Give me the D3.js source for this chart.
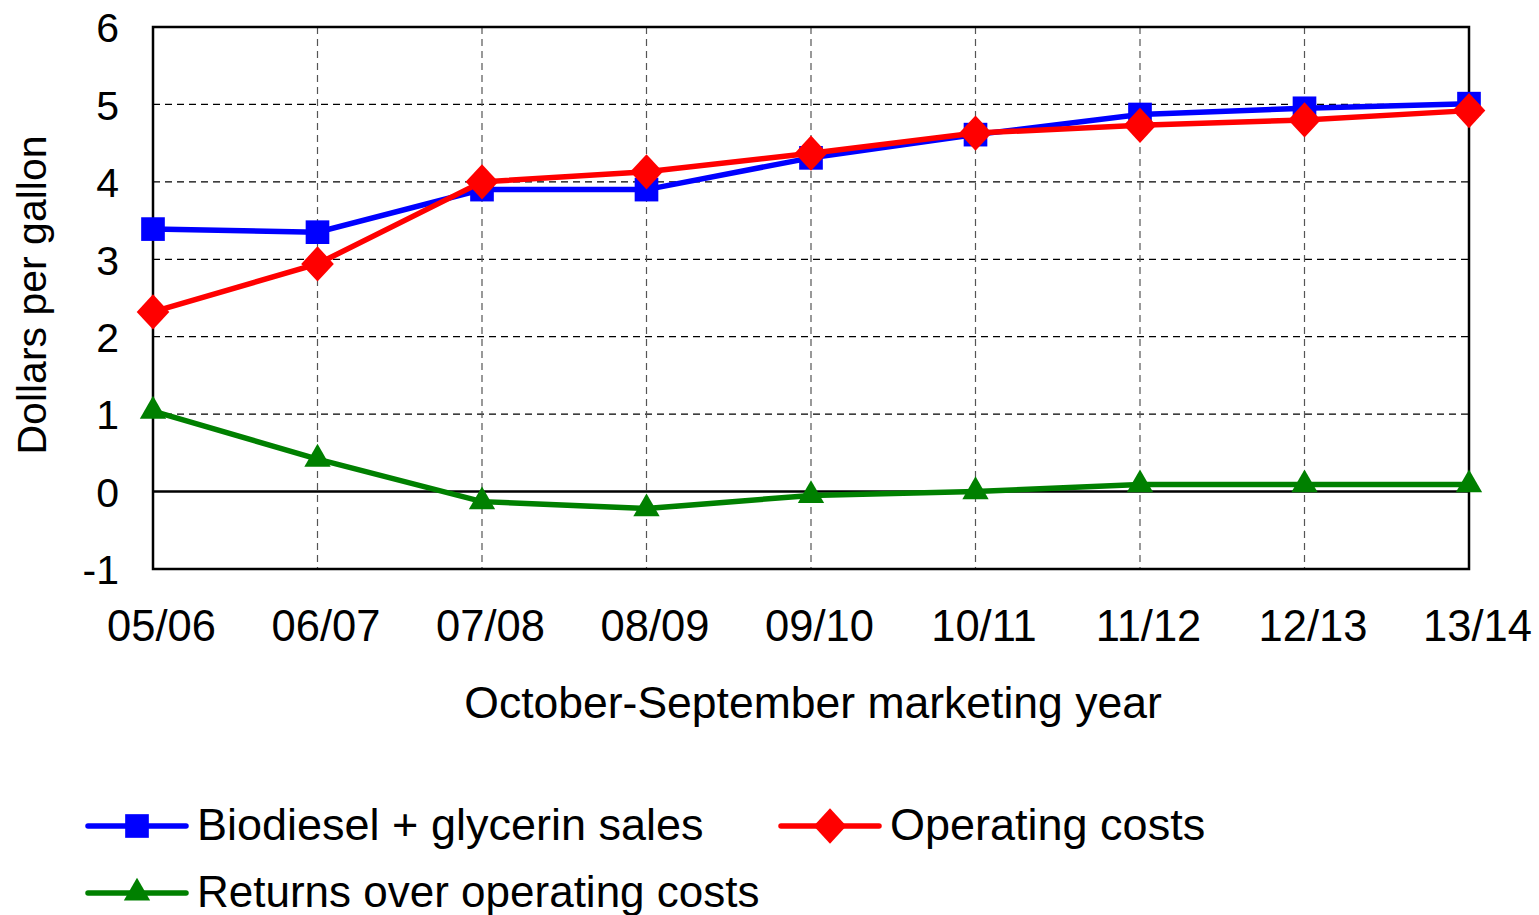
<!DOCTYPE html>
<html>
<head>
<meta charset="utf-8">
<script src="https://cdn.jsdelivr.net/npm/d3@7"></script>
<style>
  body { margin: 0; background: #fff; }
  text { font-family: "Liberation Sans", Arial, sans-serif; fill: #000; }
</style>
</head>
<body>
<script>
const years = ["05/06", "06/07", "07/08", "08/09", "09/10", "10/11", "11/12", "12/13", "13/14"];
const sales = [3.39, 3.35, 3.90, 3.90, 4.31, 4.61, 4.87, 4.95, 5.01];
const costs = [2.32, 2.94, 4.00, 4.13, 4.37, 4.63, 4.73, 4.80, 4.92];
const returns = [1.04, 0.42, -0.13, -0.22, -0.05, 0.00, 0.09, 0.09, 0.09];
const yTicks = [-1, 0, 1, 2, 3, 4, 5, 6];

const w = 1539, h = 915;
const pLeft = 153, pRight = 1469, pTop = 27, pBottom = 569;

const svg = d3.select("body").append("svg")
  .attr("width", w)
  .attr("height", h);

const x = d3.scalePoint().domain(years).range([pLeft, pRight]);
const y = d3.scaleLinear().domain([-1, 6]).range([pBottom, pTop]);

// gridlines
svg.append("g")
  .selectAll("line")
  .data(yTicks.filter(d => d > 0 && d < 6))
  .enter().append("line")
  .attr("x1", pLeft).attr("x2", pRight)
  .attr("y1", d => y(d)).attr("y2", d => y(d))
  .attr("stroke", "#000")
  .attr("stroke-width", 1.2)
  .attr("stroke-dasharray", "7,5");

svg.append("g")
  .selectAll("line")
  .data(years.slice(1, -1))
  .enter().append("line")
  .attr("x1", d => x(d)).attr("x2", d => x(d))
  .attr("y1", pTop).attr("y2", pBottom)
  .attr("stroke", "#555")
  .attr("stroke-width", 1.2)
  .attr("stroke-dasharray", "7,5");

// zero line
svg.append("line")
  .attr("x1", pLeft).attr("x2", pRight)
  .attr("y1", y(0)).attr("y2", y(0))
  .attr("stroke", "#000")
  .attr("stroke-width", 2.5);

// frame
svg.append("rect")
  .attr("x", pLeft).attr("y", pTop)
  .attr("width", pRight - pLeft).attr("height", pBottom - pTop)
  .attr("fill", "none")
  .attr("stroke", "#000")
  .attr("stroke-width", 2.5);

// axes
const yAxis = d3.axisLeft(y).tickValues(yTicks).tickSize(0).tickPadding(34).tickFormat(d => d);
svg.append("g")
  .attr("transform", "translate(" + pLeft + ",0)")
  .call(yAxis)
  .call(g => g.select(".domain").remove())
  .selectAll("text")
  .style("font-size", "41px")
  .attr("dy", "0.36em");

const xAxis = d3.axisBottom(x).tickSize(0).tickPadding(41);
svg.append("g")
  .attr("transform", "translate(8," + pBottom + ")")
  .call(xAxis)
  .call(g => g.select(".domain").remove())
  .selectAll("text")
  .style("font-size", "43.5px");

svg.append("text")
  .attr("x", (pLeft + pRight) / 2 + 2)
  .attr("y", 718)
  .attr("text-anchor", "middle")
  .style("font-size", "44.5px")
  .text("October-September marketing year");

svg.append("text")
  .attr("transform", "translate(46," + ((pTop + pBottom) / 2 - 3) + ") rotate(-90)")
  .attr("text-anchor", "middle")
  .style("font-size", "41px")
  .text("Dollars per gallon");

// series
const series = [
  { name: "Biodiesel + glycerin sales", values: sales, color: "#0000ff", marker: d3.symbolSquare, size: 560, sx: 1 },
  { name: "Operating costs", values: costs, color: "#ff0000", marker: d3.symbolDiamond, size: 360, sx: 1.6 },
  { name: "Returns over operating costs", values: returns, color: "#008000", marker: d3.symbolTriangle, size: 300, sx: 1 }
];

const line = d3.line().x((d, i) => x(years[i])).y(d => y(d));

series.forEach(s => {
  const g = svg.append("g");
  g.append("path")
    .datum(s.values)
    .attr("d", line)
    .attr("fill", "none")
    .attr("stroke", s.color)
    .attr("stroke-width", 5.5);
  g.selectAll("path.m")
    .data(s.values)
    .enter().append("path")
    .attr("class", "m")
    .attr("d", d3.symbol().type(s.marker).size(s.size))
    .attr("transform", (d, i) => "translate(" + x(years[i]) + "," + y(d) + ") scale(" + s.sx + ",1)")
    .attr("fill", s.color);
});

// legend
const legendPos = [[88, 826], [781, 826], [88, 893]];
series.forEach((s, i) => {
  const [lx, ly] = legendPos[i];
  const g = svg.append("g").attr("transform", "translate(" + lx + "," + ly + ")");
  g.append("line")
    .attr("x1", 0).attr("x2", 98)
    .attr("y1", 0).attr("y2", 0)
    .attr("stroke", s.color)
    .attr("stroke-width", 5.5)
    .attr("stroke-linecap", "round");
  g.append("path")
    .attr("d", d3.symbol().type(s.marker).size(s.size))
    .attr("transform", "translate(49,0) scale(" + s.sx + ",1)")
    .attr("fill", s.color);
  g.append("text")
    .attr("x", 109)
    .attr("y", 14)
    .style("font-size", i === 2 ? "44px" : "45px")
    .text(s.name);
});
</script>
</body>
</html>
